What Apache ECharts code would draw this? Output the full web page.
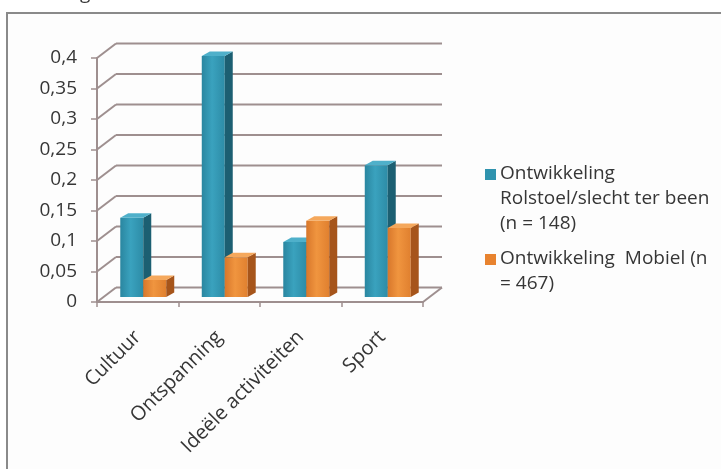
<!DOCTYPE html>
<html><head><meta charset="utf-8">
<script src="https://cdn.jsdelivr.net/npm/echarts@6/dist/echarts.min.js"></script>
<style>html,body{margin:0;padding:0;background:#fff}#c{width:721px;height:469px}</style>
</head><body><div id="c"></div>
<script>
var categories = ['Cultuur', 'Ontspanning', 'Ideële activiteiten', 'Sport'];
var seriesNames = ['Ontwikkeling\nRolstoel/slecht ter been\n(n = 148)', 'Ontwikkeling  Mobiel (n\n= 467)'];
var rolstoel = [0.13, 0.395, 0.09, 0.216];
var mobiel = [0.028, 0.065, 0.125, 0.113];
var yTicks = [0, 0.05, 0.1, 0.15, 0.2, 0.25, 0.3, 0.35, 0.4];

var GRID = '#9e8f8f';
var FONT = '"Open Sans"';
var TXT = '#363636';
var BACK = [19, -14.5];
var FACE = [6, -5];
var SIDE = [8, -4.5];
var COLORS = [
  {front: ['#2a86a0', '#3aa2be', '#2d8ca7'], side: '#1c5f72', top: '#4fb0ca'},
  {front: ['#d8772b', '#f0953f', '#e0802f'], side: '#a6551b', top: '#f5a85c'}
];

function gridRender(params, api) {
  var cs = params.coordSys;
  var v = api.value(1);
  var y = api.coord([0, v])[1];
  var x0 = cs.x, x1 = cs.x + cs.width;
  var st = {stroke: GRID, lineWidth: 2};
  var ch = [
    {type: 'line', shape: {x1: x0, y1: y, x2: x0 + BACK[0], y2: y + BACK[1]}, style: st},
    {type: 'line', shape: {x1: x0 + BACK[0], y1: y + BACK[1], x2: x1 + BACK[0], y2: y + BACK[1]}, style: st}
  ];
  if (v === 0) {
    ch.push({type: 'line', shape: {x1: x1, y1: y, x2: x1 + BACK[0], y2: y + BACK[1]}, style: st});
  }
  return {type: 'group', children: ch};
}

function barRender(k) {
  return function (params, api) {
    var i = api.value(0), v = api.value(1);
    var p0 = api.coord([i, 0]), p1 = api.coord([i, v]);
    var band = api.size([1, 0])[0];
    var w = band * 0.282;
    var cx = p0[0] + FACE[0] - 0.5;
    var xl = k === 0 ? cx - w : cx;
    var yb = p0[1] + FACE[1], yt = p1[1] + FACE[1];
    var c = COLORS[k];
    return {type: 'group', children: [
      {type: 'rect', shape: {x: xl, y: yt, width: w, height: yb - yt},
        style: {fill: new echarts.graphic.LinearGradient(0, 0, 1, 0, [
          {offset: 0, color: c.front[0]}, {offset: 0.45, color: c.front[1]}, {offset: 1, color: c.front[2]}])}},
      {type: 'polygon', shape: {points: [[xl + w, yt], [xl + w + SIDE[0], yt + SIDE[1]], [xl + w + SIDE[0], yb + SIDE[1]], [xl + w, yb]]},
        style: {fill: c.side}},
      {type: 'polygon', shape: {points: [[xl, yt], [xl + SIDE[0], yt + SIDE[1]], [xl + w + SIDE[0], yt + SIDE[1]], [xl + w, yt]]},
        style: {fill: c.top}}
    ]};
  };
}

var chart = echarts.init(document.getElementById('c'));
chart.setOption({
  backgroundColor: '#ffffff',
  animation: false,
  grid: {left: 97, top: 58, width: 326, height: 244},
  xAxis: {
    type: 'category', data: categories, boundaryGap: true,
    axisLine: {lineStyle: {color: GRID, width: 2}},
    axisTick: {show: true, length: 5, lineStyle: {color: GRID, width: 1.5}},
    axisLabel: {rotate: 45, margin: 32, fontSize: 20, fontFamily: FONT, color: TXT},
    splitLine: {show: false}
  },
  yAxis: {
    type: 'value', min: 0, max: 0.4, interval: 0.05,
    axisLine: {show: true, lineStyle: {color: GRID, width: 2}},
    axisTick: {show: true, length: 6, lineStyle: {color: GRID, width: 1.5}},
    axisLabel: {margin: 20, fontSize: 19, fontFamily: FONT, color: TXT,
      formatter: function (v) { return String(parseFloat(v.toFixed(2))).replace('.', ','); }},
    splitLine: {show: false}
  },
  series: [
    {type: 'custom', name: 'grid', renderItem: gridRender, z: 1, silent: true,
      data: yTicks.map(function (v) { return [0, v]; })},
    {type: 'custom', name: seriesNames[0], renderItem: barRender(0), z: 3,
      data: rolstoel.map(function (v, i) { return [i, v]; })},
    {type: 'custom', name: seriesNames[1], renderItem: barRender(1), z: 4,
      data: mobiel.map(function (v, i) { return [i, v]; })}
  ],
  graphic: [
    {type: 'rect', z: -10, shape: {x: 7, y: 13, width: 780, height: 520},
      style: {fill: '#fdfdfd', stroke: '#8a8a8a', lineWidth: 2}},
    {type: 'text', x: 80, y: 3, style: {text: 'g', font: '19px ' + FONT, fill: TXT, verticalAlign: 'bottom'}},
    {type: 'rect', shape: {x: 485, y: 169, width: 11, height: 11}, style: {fill: '#2f93ae'}},
    {type: 'text', x: 500, y: 161, style: {text: seriesNames[0], font: '19px ' + FONT, lineHeight: 25, fill: TXT, verticalAlign: 'top'}},
    {type: 'rect', shape: {x: 485, y: 254, width: 11, height: 11}, style: {fill: '#e8832f'}},
    {type: 'text', x: 500, y: 246, style: {text: seriesNames[1], font: '19px ' + FONT, lineHeight: 25, fill: TXT, verticalAlign: 'top'}}
  ]
});
</script>
</body></html>
